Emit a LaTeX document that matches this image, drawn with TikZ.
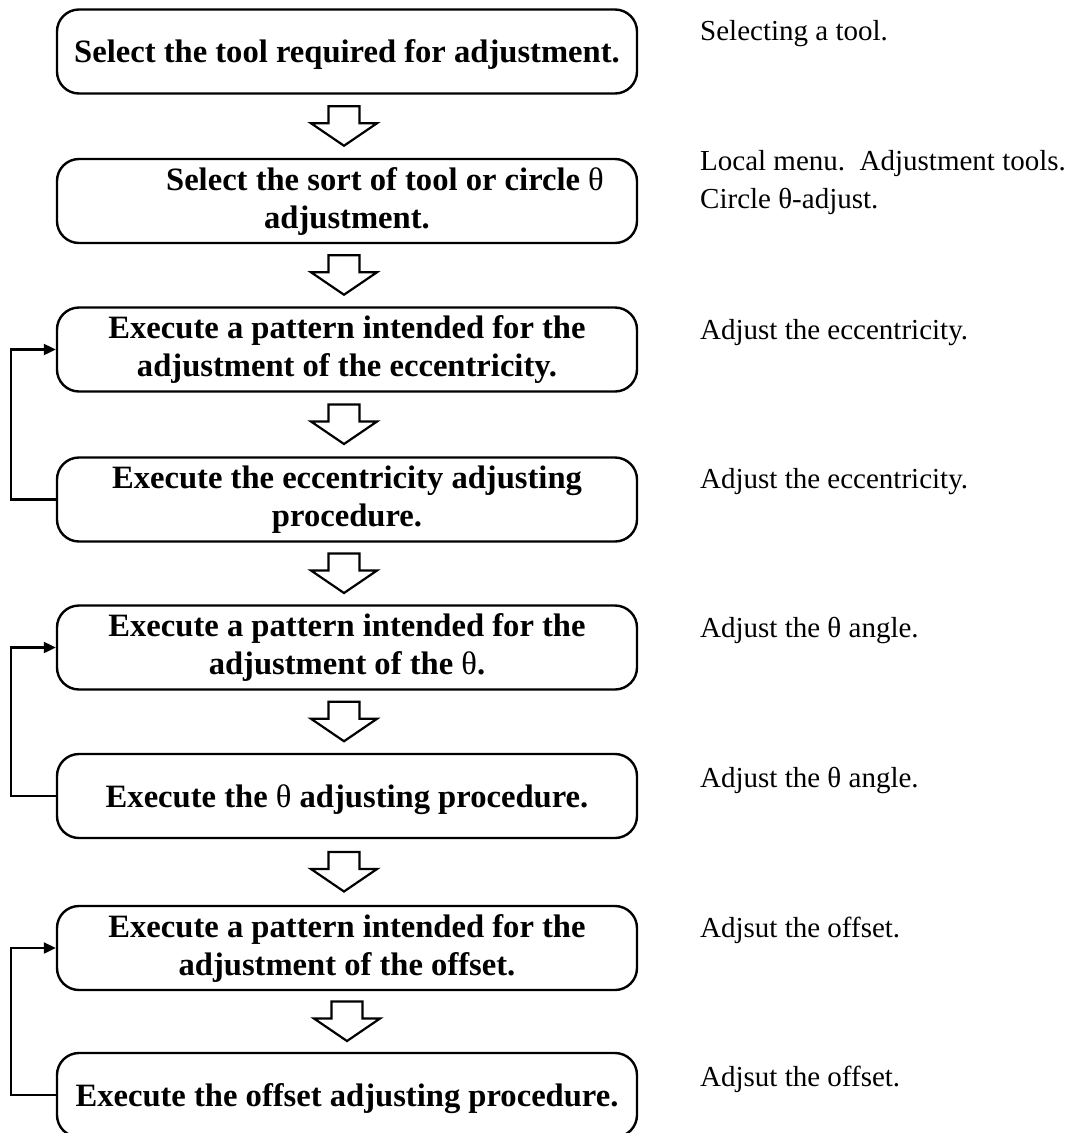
\documentclass[tikz,border=0pt]{standalone}
\usepackage{fontspec}
\setmainfont{Liberation Serif}
\usetikzlibrary{arrows.meta,calc}
\begin{document}
\begin{tikzpicture}[x=1pt,y=-1pt,
  box/.style={draw, line width=2.4pt, rounded corners=22pt, minimum width=580pt,
    minimum height=84pt, align=center, inner sep=0pt,
    font=\fontsize{32.6}{38}\selectfont\bfseries},
  single/.style={text height=28pt, text depth=6pt},
  note/.style={anchor=base west, inner sep=0pt, align=left,
    font=\fontsize{29}{38}\selectfont},
  fb/.style={line width=2.2pt, -{Triangle[length=12pt,width=11pt]}},
  hollow/.style={draw, line width=2.2pt, fill=white, line join=miter},
  hollowarrow/.pic={\draw[hollow] (-15.5,-20) -- (15.5,-20) -- (15.5,-3) -- (33,-3)
    -- (0,19.5) -- (-33,-3) -- (-15.5,-3) -- cycle;}]
\useasboundingbox (0,0) rectangle (1073,1133);
\clip (0,0) rectangle (1073,1133);

\node[box,single] (b1) at (347,51.5) {Select the tool required for adjustment.};
\node[box] (b2) at (347,201) {\hspace*{76pt}Select the sort of tool or circle {\mdseries θ}\\adjustment.};
\node[box] (b3) at (347,349.5) {Execute a pattern intended for the\\adjustment of the eccentricity.};
\node[box] (b4) at (347,499.5) {Execute the eccentricity adjusting\\procedure.};
\node[box] (b5) at (347,647.5) {Execute a pattern intended for the\\adjustment of the {\mdseries θ}.};
\node[box,single] (b6) at (347,796) {Execute the {\mdseries θ} adjusting procedure.};
\node[box] (b7) at (347,948) {Execute a pattern intended for the\\adjustment of the offset.};
\node[box,single] (b8) at (347,1095) {Execute the offset adjusting procedure.};

\pic at ($(b1.south)!.5!(b2.north)+(-3,0)$) {hollowarrow};
\pic at ($(b2.south)!.5!(b3.north)+(-3,0)$) {hollowarrow};
\pic at ($(b3.south)!.5!(b4.north)+(-3,0)$) {hollowarrow};
\pic at ($(b4.south)!.5!(b5.north)+(-3,0)$) {hollowarrow};
\pic at ($(b5.south)!.5!(b6.north)+(-3,0)$) {hollowarrow};
\pic at ($(b6.south)!.5!(b7.north)+(-3,0)$) {hollowarrow};
\pic at ($(b7.south)!.5!(b8.north)+(0,0)$) {hollowarrow};

\draw[fb] (b4.west) -- ++(-45,0) |- (b3.west);
\draw[fb] (b6.west) -- ++(-45,0) |- (b5.west);
\draw[fb] (b8.west) -- ++(-45,0) |- (b7.west);

\node[note] (r1) at (700,40) {Selecting a tool.};
\node[note] (r2) at (700,208) {Local menu.\ \ Adjustment tools.\\Circle θ-adjust.};
\node[note] (r3) at (700,339) {Adjust the eccentricity.};
\node[note] (r4) at (700,488) {Adjust the eccentricity.};
\node[note] (r5) at (700,637) {Adjust the θ angle.};
\node[note] (r6) at (700,787) {Adjust the θ angle.};
\node[note] (r7) at (700,937) {Adjsut the offset.};
\node[note] (r8) at (700,1086) {Adjsut the offset.};
\end{tikzpicture}
\end{document}
